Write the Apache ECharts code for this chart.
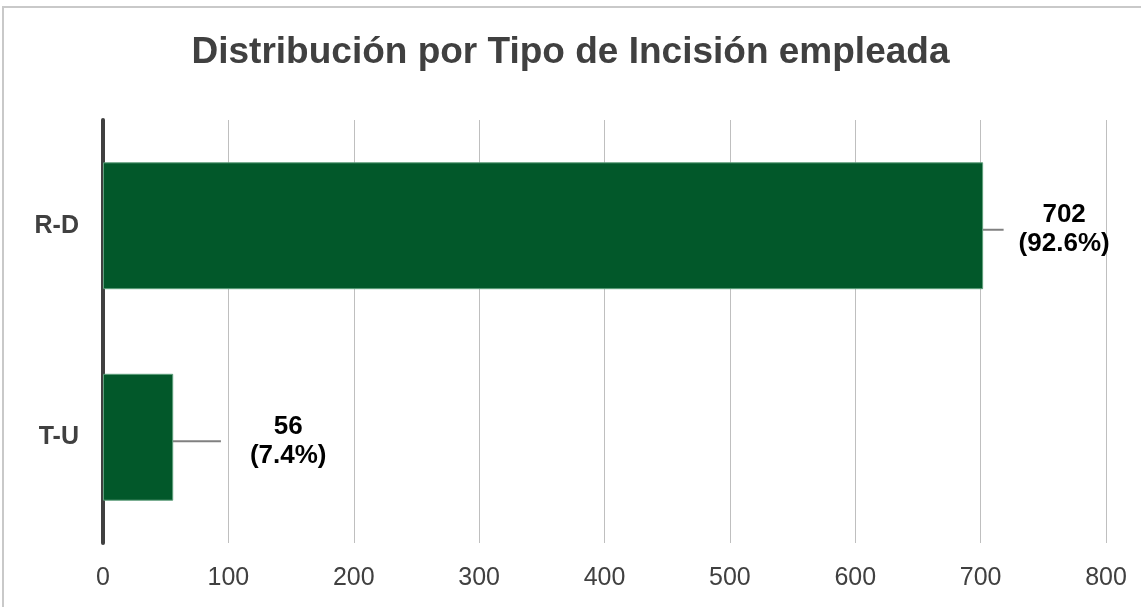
<!DOCTYPE html>
<html>
<head>
<meta charset="utf-8">
<script src="https://cdn.jsdelivr.net/npm/echarts@6/dist/echarts.min.js"></script>
<style>
html,body{margin:0;padding:0;background:#fff;}
#chart{width:1141px;height:607px;}
</style>
</head>
<body>
<div id="chart"></div>
<script>
const categories = ['R-D', 'T-U'];
const counts = [702, 56];
const xTicks = [0, 100, 200, 300, 400, 500, 600, 700, 800];
const titleText = 'Distribución por Tipo de Incisión empleada';

const total = counts.reduce((a, b) => a + b, 0);
// label placement (visual style, not data)
const labelCenterOffset = [81, 115];
const labelPad = [15, 29];

const chart = echarts.init(document.getElementById('chart'));
const FONT = '"Liberation Sans", Arial, sans-serif';

chart.setOption({
  animation: false,
  backgroundColor: '#fff',
  graphic: [{
    type: 'rect',
    shape: { x: 3, y: 7, width: 1150, height: 620 },
    style: { fill: 'none', stroke: '#c9c9c9', lineWidth: 2 },
    silent: true
  }],
  title: {
    text: titleText,
    left: 'center',
    top: 29,
    textStyle: { fontFamily: FONT, fontSize: 37, fontWeight: 'bold', color: '#404040' }
  },
  grid: { left: 103, right: 35, top: 120, bottom: 64 },
  xAxis: {
    type: 'value',
    min: xTicks[0],
    max: xTicks[xTicks.length - 1],
    interval: xTicks[1] - xTicks[0],
    axisLine: { show: false },
    axisTick: { show: false },
    splitLine: { show: true, lineStyle: { color: '#bfbfbf', width: 1 } },
    axisLabel: { fontFamily: FONT, fontSize: 25, color: '#404040', margin: 23 }
  },
  yAxis: {
    type: 'category',
    inverse: true,
    data: categories,
    axisLine: { show: true, lineStyle: { color: '#404040', width: 4 } },
    axisTick: { show: false },
    axisLabel: { fontFamily: FONT, fontSize: 25, fontWeight: 'bold', color: '#404040', margin: 24 }
  },
  series: [{
    type: 'bar',
    barWidth: '60%',
    data: counts.map((v, i) => ({
      value: v,
      label: { padding: [0, labelPad[i]] }
    })),
    itemStyle: { color: '#02582A', borderColor: '#5f9f7c', borderWidth: 1 },
    label: {
      show: true,
      position: 'right',
      fontFamily: FONT,
      fontSize: 26,
      fontWeight: 'bold',
      color: '#000',
      lineHeight: 29,
      align: 'center',
      formatter: p => p.value + '\n(' + (p.value / total * 100).toFixed(1) + '%)'
    },
    labelLine: { show: true, lineStyle: { color: '#808080', width: 2 } },
    labelLayout: function (params) {
      const r = params.rect;
      const i = params.dataIndex;
      return {
        x: r.x + r.width + labelCenterOffset[i],
        y: r.y + r.height / 2 + 4,
        align: 'center',
        verticalAlign: 'middle'
      };
    }
  }]
});
</script>
</body>
</html>
